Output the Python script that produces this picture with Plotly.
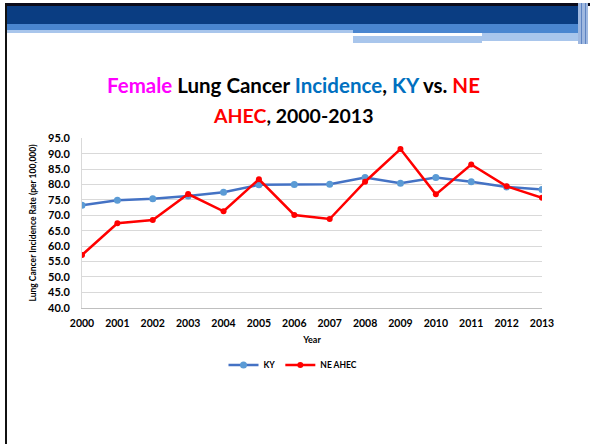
import plotly.graph_objects as go

years = [str(y) for y in range(2000, 2014)]
ky = [73.3, 74.9, 75.4, 76.3, 77.5, 79.9, 80.0, 80.1, 82.3, 80.4, 82.3, 80.9, 79.2, 78.4]
ne = [57.1, 67.4, 68.5, 76.9, 71.3, 81.7, 70.1, 68.8, 80.9, 91.5, 76.8, 86.5, 79.4, 75.7]
y_ticks = [40 + 5 * i for i in range(12)]
y_tick_labels = [f"{v:.1f}" for v in y_ticks]

W, H = 590, 444
def px(x):
    return x / W
def py(y):
    return 1 - y / H

FONT = "Lato"

fig = go.Figure()
fig.add_trace(go.Scatter(
    x=years, y=ky, name="KY", mode="lines+markers",
    line=dict(color="#4472C4", width=2.5),
    marker=dict(color="#5B9BD5", size=7),
))
fig.add_trace(go.Scatter(
    x=years, y=ne, name="NE AHEC", mode="lines+markers",
    line=dict(color="#FF0000", width=2.5),
    marker=dict(color="#FF0000", size=6),
))

shapes = []
def rect(x0, y0, x1, y1, color):
    shapes.append(dict(type="rect", xref="paper", yref="paper",
                       x0=px(x0), x1=px(x1), y0=py(y1), y1=py(y0),
                       fillcolor=color, line=dict(width=0), layer="above"))

rect(5, 3, 590, 6, "#0B0B1A")
rect(7, 6, 578, 24, "#0A3D82")
rect(7, 24, 353, 30, "#4A86D0")
rect(7, 30, 353, 33, "#A9C6EC")
rect(353, 24, 578, 33, "#4A86D0")
rect(353, 36, 482, 43, "#A9C6EC")
rect(482, 33, 578, 41, "#A9C6EC")
rect(553, 33, 578, 36, "#A9C6EC")
rect(578, 3, 588, 44, "#9FB8E0")
rect(581, 3, 582, 44, "#5E84C2")
rect(585, 3, 586, 44, "#5E84C2")
rect(5, 3, 7, 444, "#111111")

fig.update_layout(
    width=W, height=H,
    margin=dict(l=0, r=0, t=0, b=0, autoexpand=False),
    paper_bgcolor="white", plot_bgcolor="white",
    shapes=shapes,
    showlegend=True,
    legend=dict(orientation="h", x=px(293), xanchor="center", y=py(365), yanchor="middle",
                font=dict(family=FONT, size=8.5, color="black", weight="bold"),
                tracegroupgap=0, bgcolor="rgba(0,0,0,0)"),
    xaxis=dict(
        domain=[px(82), px(542)], automargin=False,
        type="category", range=[0, 13],
        showgrid=False, showline=True, linecolor="#BFBFBF", linewidth=1,
        zeroline=False, ticks="",
        tickfont=dict(family=FONT, size=10.5, color="black", weight="bold"),
        ticklabelstandoff=6,
        title=dict(text="Year", font=dict(family=FONT, size=9, color="black", weight="bold"),
                   standoff=8),
    ),
    yaxis=dict(
        domain=[py(307.7), py(138.3)], automargin=False,
        range=[40, 95],
        tickmode="array", tickvals=y_ticks, ticktext=y_tick_labels,
        showgrid=True, gridcolor="#D9D9D9", gridwidth=1,
        showline=True, linecolor="#D9D9D9", linewidth=1,
        zeroline=False, ticks="",
        tickfont=dict(family=FONT, size=11, color="black", weight="bold"),
        ticklabelstandoff=9,
        title=dict(text="Lung Cancer Incidence Rate (per 100,000)",
                   font=dict(family=FONT, size=8.5, color="black", weight="bold"),
                   standoff=10),
    ),
)

fig.add_annotation(
    xref="paper", yref="paper", x=px(293), y=py(85), xanchor="center", yanchor="middle",
    showarrow=False,
    text=("<span style='color:#FF00FF'>Female</span> Lung Cancer "
          "<span style='color:#0070C0'>Incidence</span>, "
          "<span style='color:#0070C0'>KY</span> vs. "
          "<span style='color:#FF0000'>NE</span>"),
    font=dict(family=FONT, size=20.5, color="black", weight="bold"),
)
fig.add_annotation(
    xref="paper", yref="paper", x=px(293), y=py(115), xanchor="center", yanchor="middle",
    showarrow=False,
    text="<span style='color:#FF0000'>AHEC</span>, 2000-2013",
    font=dict(family=FONT, size=19.5, color="black", weight="bold"),
)

fig.write_html("out.html", config={"displayModeBar": False},
               post_script="document.body.style.margin='0';document.body.style.padding='0';")
